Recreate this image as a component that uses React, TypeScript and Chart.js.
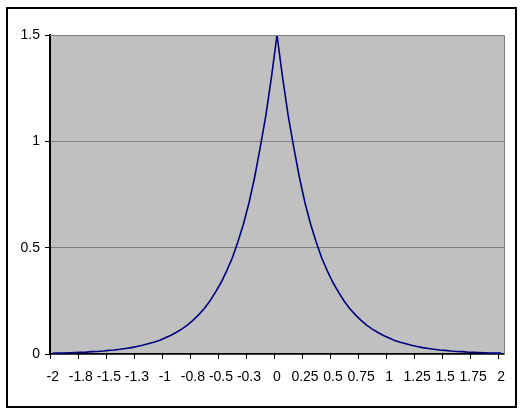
import React, { useEffect, useRef } from "react";
import { Chart, registerables } from "chart.js";

Chart.register(...registerables);

const categories: string[] = [
  "-2", "-1.95", "-1.9", "-1.85", "-1.8", "-1.75", "-1.7", "-1.65", "-1.6", "-1.55",
  "-1.5", "-1.45", "-1.4", "-1.35", "-1.3", "-1.25", "-1.2", "-1.15", "-1.1", "-1.05",
  "-1", "-0.95", "-0.9", "-0.85", "-0.8", "-0.75", "-0.7", "-0.65", "-0.6", "-0.55",
  "-0.5", "-0.45", "-0.4", "-0.35", "-0.3", "-0.25", "-0.2", "-0.15", "-0.1", "-0.05",
  "0", "0.05", "0.1", "0.15", "0.2", "0.25", "0.3", "0.35", "0.4", "0.45",
  "0.5", "0.55", "0.6", "0.65", "0.7", "0.75", "0.8", "0.85", "0.9", "0.95",
  "1", "1.05", "1.1", "1.15", "1.2", "1.25", "1.3", "1.35", "1.4", "1.45",
  "1.5", "1.55", "1.6", "1.65", "1.7", "1.75", "1.8", "1.85", "1.9", "1.95",
  "2",
];

const density: number[] = [
  0.004, 0.004, 0.005, 0.006, 0.007, 0.008, 0.009, 0.011, 0.012, 0.014,
  0.017, 0.019, 0.022, 0.026, 0.03, 0.035, 0.041, 0.048, 0.055, 0.064,
  0.075, 0.087, 0.101, 0.117, 0.136, 0.158, 0.184, 0.213, 0.248, 0.29,
  0.335, 0.39, 0.45, 0.525, 0.61, 0.71, 0.83, 0.97, 1.12, 1.3,
  1.5, 1.3, 1.12, 0.97, 0.83, 0.71, 0.61, 0.525, 0.45, 0.39,
  0.335, 0.29, 0.248, 0.213, 0.184, 0.158, 0.136, 0.117, 0.101, 0.087,
  0.075, 0.064, 0.055, 0.048, 0.041, 0.035, 0.03, 0.026, 0.022, 0.019,
  0.017, 0.014, 0.012, 0.011, 0.009, 0.008, 0.007, 0.006, 0.005, 0.004,
  0.004,
];

const xTickLabels: string[] = [
  "-2", "-1.8", "-1.5", "-1.3", "-1", "-0.8", "-0.5", "-0.3", "0",
  "0.25", "0.5", "0.75", "1", "1.25", "1.5", "1.75", "2",
];

const TICK_EVERY = 5;
const FONT_FAMILY = "'Liberation Sans Narrow', 'Arial Narrow', 'Liberation Sans', Arial, sans-serif";

const plotDecor = {
  id: "plotDecor",
  beforeDraw(chart: any) {
    const { ctx, chartArea } = chart;
    ctx.save();
    ctx.fillStyle = "#C0C0C0";
    ctx.fillRect(chartArea.left, chartArea.top, chartArea.right - chartArea.left, chartArea.bottom - chartArea.top);
    ctx.restore();
  },
  afterDraw(chart: any) {
    const { ctx, chartArea } = chart;
    const xScale = chart.scales.x;
    ctx.save();
    ctx.strokeStyle = "#808080";
    ctx.lineWidth = 1;
    ctx.beginPath();
    ctx.moveTo(chartArea.left, chartArea.top + 0.5);
    ctx.lineTo(chartArea.right + 0.5, chartArea.top + 0.5);
    ctx.lineTo(chartArea.right + 0.5, chartArea.bottom);
    ctx.stroke();
    // category-boundary tick marks below the x axis, every TICK_EVERY categories
    const half = (xScale.getPixelForValue(1) - xScale.getPixelForValue(0)) / 2;
    ctx.strokeStyle = "#000";
    ctx.lineWidth = 1;
    ctx.beginPath();
    for (let i = 0; i < categories.length; i += TICK_EVERY) {
      const x = Math.round(xScale.getPixelForValue(i) - half) + 0.5;
      ctx.moveTo(x, chartArea.bottom);
      ctx.lineTo(x, chartArea.bottom + 5);
    }
    ctx.stroke();
    ctx.restore();
  },
};

export default function App() {
  const canvasRef = useRef<HTMLCanvasElement | null>(null);

  useEffect(() => {
    if (!canvasRef.current) return;
    const chart = new Chart(canvasRef.current, {
      type: "line",
      data: {
        labels: categories,
        datasets: [
          {
            data: density,
            borderColor: "#000080",
            borderWidth: 1.6,
            pointRadius: 0,
            tension: 0,
            fill: false,
          },
        ],
      },
      options: {
        responsive: false,
        animation: false,
        layout: { padding: { top: 35, right: 22, left: 0, bottom: 0 } },
        plugins: {
          legend: { display: false },
          tooltip: { enabled: false },
          title: { display: false },
        },
        scales: {
          x: {
            type: "category",
            offset: true,
            grid: {
              display: true,
              drawOnChartArea: false,
              drawTicks: true,
              tickLength: 4,
              color: "rgba(0,0,0,0)",
              tickColor: "rgba(0,0,0,0)",
            },
            border: { color: "#000", width: 1.5 },
            ticks: {
              autoSkip: false,
              maxRotation: 0,
              minRotation: 0,
              padding: 11,
              color: "#000",
              font: { family: FONT_FAMILY, size: 14 },
              callback: (_v: any, index: number) =>
                index % TICK_EVERY === 0 ? xTickLabels[index / TICK_EVERY] : null,
            },
            afterFit: (scale: any) => {
              scale.height = 60;
            },
          },
          y: {
            min: 0,
            max: 1.5,
            grid: {
              color: "#808080",
              tickColor: "#000",
              tickLength: 5,
              lineWidth: 1,
            },
            border: { color: "#000", width: 2 },
            ticks: {
              stepSize: 0.5,
              padding: 5,
              color: "#000",
              font: { family: FONT_FAMILY, size: 14 },
              callback: (v: any) => String(v),
            },
            afterFit: (scale: any) => {
              scale.width = 50;
            },
          },
        },
      },
      plugins: [plotDecor],
    });
    return () => chart.destroy();
  }, []);

  return (
    <div style={{ position: "absolute", left: 0, top: 0, width: 526, height: 414, background: "#fff" }}>
      <canvas ref={canvasRef} width={526} height={414} style={{ position: "absolute", left: 0, top: 0 }} />
      <div
        style={{
          position: "absolute",
          left: 6,
          top: 7,
          width: 511,
          height: 401,
          border: "2px solid #000",
          boxSizing: "border-box",
          pointerEvents: "none",
        }}
      />
    </div>
  );
}
